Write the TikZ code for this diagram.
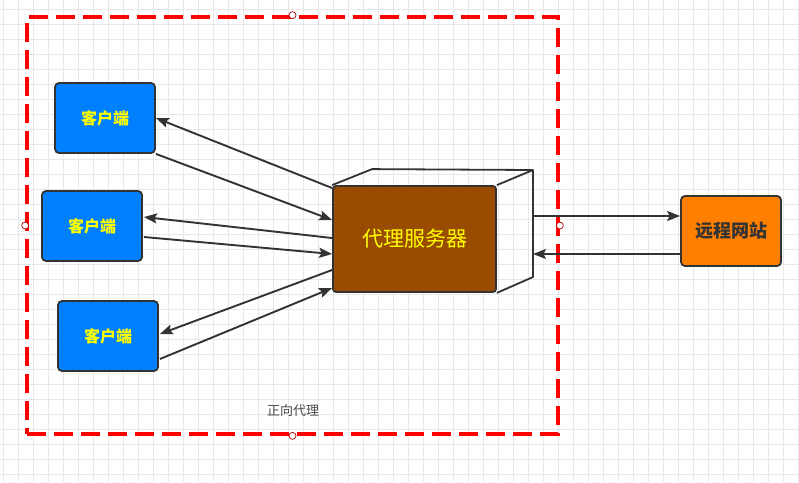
\documentclass[tikz,border=0pt]{standalone}
\usepackage{fontspec}
\newfontfamily\cjk{Noto Sans CJK SC}
\usetikzlibrary{calc,arrows.meta}
\definecolor{edge}{HTML}{333333}
\definecolor{cblue}{HTML}{007FFF}
\definecolor{pbrown}{HTML}{994C00}
\definecolor{rorange}{HTML}{FF8000}
\definecolor{gridc}{HTML}{E8E8E8}
\definecolor{txty}{HTML}{FFFF00}
\tikzset{
  box/.style={draw=edge, line width=1.8pt, rounded corners=4pt, minimum width=100pt, minimum height=70pt, inner sep=0pt},
  client/.style={box, fill=cblue, text=txty, font=\cjk\bfseries\fontsize{16}{18}\selectfont},
  arr/.style={draw=edge, line width=1.9pt, -{Stealth[length=13pt,width=10pt,inset=2.5pt]}},
  cubeline/.style={draw=edge, line width=1.8pt, line join=round},
  frame/.style={draw=red, line width=3.7pt, dash pattern=on 19pt off 8pt, minimum width=531pt, minimum height=417pt, inner sep=0pt},
  handle/.style={circle, draw=red!70!black, fill=white, line width=0.7pt, minimum size=7pt, inner sep=0pt}
}
\begin{document}
\begin{tikzpicture}[x=1pt,y=-1pt]
\useasboundingbox (0,0) rectangle (799,482);
\fill[white] (0,0) rectangle (799,482);
% grid
\foreach \gx in {3,18,...,798} \draw[gridc, line width=0.8pt] (\gx,0) -- (\gx,482);
\foreach \gy in {9,24,...,481} \draw[gridc, line width=0.8pt] (0,\gy) -- (799,\gy);

% frame
\node[frame] (fr) at (292.5,225.5) {};
\node[text=edge!90, font=\cjk\fontsize{13}{15}\selectfont] (lbl) at (293,411) {正向代理};

% clients
\node[client] (c1) at (105,118) {客户端};
\node[client] (c2) at (92,226) {客户端};
\node[client] (c3) at (108,336) {客户端};

% proxy cube
\node[box, rounded corners=3pt, fill=pbrown, minimum width=163pt, minimum height=106pt, text=txty, font=\cjk\fontsize{21}{24}\selectfont] (proxy) at (414.5,239) {代理服务器};
\draw[cubeline] (proxy.north west) -- ++(40,-16) coordinate (btl) -- (533,170) coordinate (btr) -- (533,277) coordinate (bbr) -- (proxy.south east);
\draw[cubeline] (proxy.north east) -- (btr);
\coordinate (bk) at (533,231);

% remote
\node[box, fill=rorange, text=edge, font=\cjk\bfseries\fontsize{18}{20}\selectfont] (remote) at (731,231) {远程网站};

% client arrows
\draw[arr] ($(proxy.west)+(0,-51)$) -- (c1.east);
\draw[arr] (c1.south east) -- ($(proxy.west)+(0,-19)$);
\draw[arr] ($(proxy.west)+(0,-1)$) -- ($(c2.east)+(1,-9)$);
\draw[arr] ($(c2.east)+(1,11)$) -- ($(proxy.west)+(0,15)$);
\draw[arr] ($(proxy.west)+(0,31)$) -- ($(c3.east)+(1,-2)$);
\draw[arr] ($(c3.east)+(1,23)$) -- ($(proxy.west)+(0,49)$);

% remote arrows
\coordinate (r1) at ($(remote.west)+(0,-15)$);
\coordinate (r2) at ($(remote.west)+(0,23)$);
\draw[arr] (bk |- r1) -- (r1);
\draw[arr] (r2) -- (bk |- r2);

% handles
\node[handle] (h1) at (fr.north) {};
\node[handle] (h2) at (fr.south) {};
\node[handle] (h3) at (fr.west) {};
\node[handle] (h4) at (fr.east) {};
\end{tikzpicture}
\end{document}
